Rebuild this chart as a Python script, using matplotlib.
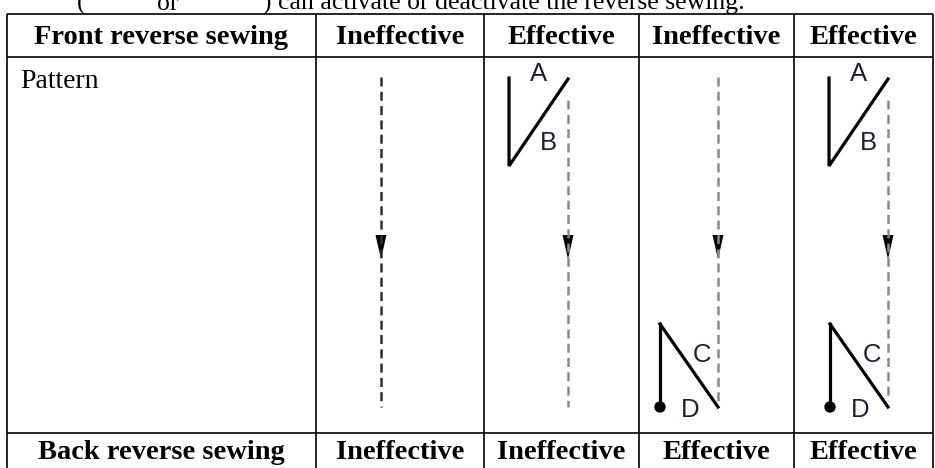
import matplotlib.pyplot as plt
from matplotlib.patches import Circle, Polygon

# table content
row_labels = ["Front reverse sewing", "Back reverse sewing"]
front_state = ["Ineffective", "Effective", "Ineffective", "Effective"]
back_state = ["Ineffective", "Ineffective", "Effective", "Effective"]
pattern_label = "Pattern"
caption_parts = ["(", "or", ") can activate or deactivate the reverse sewing."]

# layout in pixels (figure is 935 x 468)
W, H = 935, 468
col_edges = [7, 316, 484, 639, 794, 933]
row_edges = [14, 57, 433, 468]
stitch_x = [381, 568, 718, 888]
caption_x = [77, 157, 263]

has_ab = [s == "Effective" for s in front_state]
has_cd = [s == "Effective" for s in back_state]

fig = plt.figure(figsize=(W / 100, H / 100), dpi=100)
ax = fig.add_axes([0, 0, 1, 1])
ax.set_xlim(0, W)
ax.set_ylim(H, 0)
ax.axis("off")

serif = "Liberation Serif"
sans = "Liberation Sans"
ink = "#1e1e38"

# caption line, cut off at the top as in the source page
for x, t in zip(caption_x, caption_parts):
    ax.text(x, 10, t, fontsize=18.5, family=serif, va="baseline", ha="left")

# grid
for y in row_edges[:3]:
    ax.plot([col_edges[0], col_edges[-1]], [y, y], color="black", lw=1.2, solid_capstyle="butt")
for x in col_edges:
    ax.plot([x, x], [row_edges[0], H], color="black", lw=1.2, solid_capstyle="butt")

# header / footer text
hy = (row_edges[0] + row_edges[1]) / 2 + 2
fy = (row_edges[2] + row_edges[3]) / 2 + 2
ax.text((col_edges[0] + col_edges[1]) / 2, hy, row_labels[0], fontsize=20.5, family=serif,
        weight="bold", ha="center", va="center")
ax.text((col_edges[0] + col_edges[1]) / 2, fy, row_labels[1], fontsize=20.5, family=serif,
        weight="bold", ha="center", va="center")
for i in range(4):
    cx = (col_edges[i + 1] + col_edges[i + 2]) / 2
    ax.text(cx, hy, front_state[i], fontsize=20.5, family=serif, weight="bold", ha="center", va="center")
    ax.text(cx, fy, back_state[i], fontsize=20.5, family=serif, weight="bold", ha="center", va="center")

ax.text(20, 81, pattern_label, fontsize=20, family=serif, ha="left", va="center")

# stitch diagrams
lw = 1.8
dash = (0, (6.5 / lw, 3.8 / lw))
for i, x0 in enumerate(stitch_x):
    gray = "#303030" if i == 0 else "#8a8a8a"
    y_top = 100 if has_ab[i] else 77
    y_bot = 401 if has_cd[i] else 407
    ax.plot([x0, x0], [y_top, y_bot], color=gray, lw=lw, ls=dash)
    ax.add_patch(Polygon([(x0 - 5.5, 235), (x0 + 5.5, 235), (x0, 259)], closed=True,
                         color="black", lw=0))

    if has_ab[i]:
        xv = x0 - 59
        ax.plot([xv, xv, x0], [78, 166, 79], color="black", lw=2.3, solid_joinstyle="miter")
        ax.text(x0 - 29, 74, "A", fontsize=18.5, family=sans, color=ink, ha="center", va="center")
        ax.text(x0 - 20, 143, "B", fontsize=18.5, family=sans, color=ink, ha="center", va="center")

    if has_cd[i]:
        xv = x0 - 58
        ax.plot([xv, xv], [407, 324], color="black", lw=2.3)
        ax.plot([xv, x0], [324, 407], color="black", lw=2.3)
        ax.add_patch(Circle((xv, 407), 5, color="black"))
        ax.text(x0 - 16, 355, "C", fontsize=18.5, family=sans, color=ink, ha="center", va="center")
        ax.text(x0 - 28, 410, "D", fontsize=18.5, family=sans, color=ink, ha="center", va="center")

fig.savefig("out.png", dpi=100)
